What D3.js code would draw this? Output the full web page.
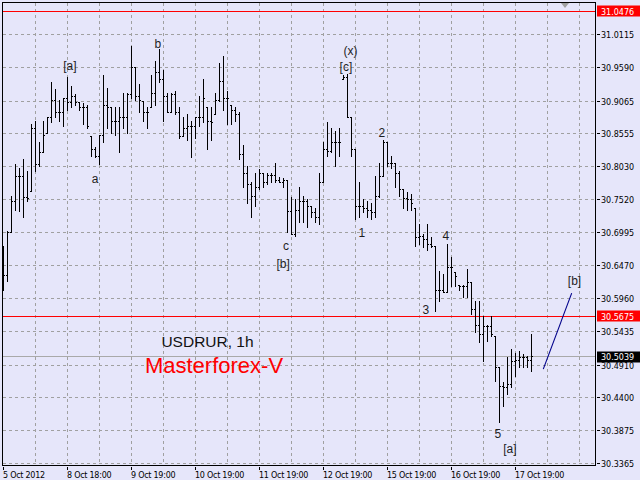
<!DOCTYPE html>
<html><head><meta charset="utf-8">
<script src="https://cdn.jsdelivr.net/npm/d3@7"></script>
<style>html,body{margin:0;padding:0;background:#e6e6fa;} svg{display:block}</style>
</head><body>
<svg id="chart" width="640" height="480"></svg>
<script>
// ---- data (USDRUR, 1h bars) ----
const opens = [
30.617,30.632,30.699,30.749,30.787,30.787,30.754,30.764,30.864,30.806,
30.825,30.856,30.881,30.908,30.888,30.888,30.910,30.904,30.913,30.904,
30.896,30.896,30.850,30.831,30.820,30.852,30.899,30.896,30.874,30.874,
30.881,30.881,30.916,30.960,30.913,30.905,30.888,30.897,30.919,30.951,
30.941,30.913,30.889,30.916,30.888,30.850,30.864,30.867,30.867,30.881,
30.881,30.896,30.874,30.885,30.908,30.937,30.911,30.900,30.892,30.885,
30.822,30.793,30.775,30.756,30.770,30.793,30.778,30.790,30.790,30.782,
30.779,30.782,30.732,30.696,30.735,30.748,30.748,30.740,30.731,30.724,
30.778,30.830,30.827,30.841,30.841,30.940,30.944,30.881,30.830,30.740,
30.740,30.738,30.735,30.731,30.756,30.787,30.841,30.809,30.809,30.793,
30.767,30.753,30.751,30.738,30.691,30.693,30.688,30.680,30.677,30.609,
30.609,30.606,30.644,30.636,30.617,30.614,30.614,30.621,30.578,30.554,
30.539,30.551,30.551,30.536,30.488,30.457,30.455,30.460,30.496,30.499,
30.503,30.503,30.499];
const highs = [
30.677,30.701,30.756,30.806,30.801,30.814,30.795,30.869,30.874,30.842,
30.874,30.881,30.935,30.924,30.908,30.911,30.944,30.929,30.916,30.904,
30.902,30.900,30.850,30.834,30.853,30.947,30.927,30.897,30.897,30.896,
30.919,30.919,30.992,30.960,30.932,30.905,30.896,30.947,30.968,30.987,
30.955,30.919,30.919,30.921,30.897,30.881,30.885,30.874,30.881,30.913,
30.940,30.896,30.896,30.919,30.966,30.977,30.921,30.900,30.897,30.888,
30.837,30.803,30.778,30.793,30.798,30.793,30.793,30.793,30.809,30.786,
30.784,30.782,30.754,30.751,30.770,30.756,30.751,30.740,30.738,30.793,
30.841,30.872,30.864,30.858,30.864,30.946,30.949,30.881,30.830,30.779,
30.751,30.748,30.746,30.787,30.809,30.845,30.842,30.819,30.809,30.795,
30.767,30.762,30.759,30.738,30.712,30.696,30.712,30.691,30.677,30.638,
30.633,30.680,30.660,30.636,30.617,30.617,30.641,30.621,30.591,30.591,
30.567,30.554,30.567,30.536,30.488,30.463,30.503,30.515,30.510,30.512,
30.507,30.504,30.539];
const lows = [
30.609,30.622,30.699,30.735,30.732,30.724,30.748,30.764,30.795,30.803,
30.825,30.856,30.872,30.881,30.874,30.866,30.892,30.896,30.900,30.892,
30.869,30.864,30.819,30.817,30.806,30.842,30.864,30.856,30.853,30.825,
30.864,30.856,30.911,30.908,30.888,30.874,30.864,30.897,30.899,30.935,
30.874,30.888,30.889,30.885,30.848,30.850,30.845,30.817,30.848,30.867,
30.872,30.830,30.845,30.885,30.905,30.892,30.869,30.869,30.874,30.814,
30.771,30.746,30.724,30.740,30.767,30.771,30.775,30.779,30.779,30.778,
30.771,30.699,30.696,30.694,30.716,30.716,30.707,30.724,30.716,30.712,
30.778,30.819,30.825,30.803,30.819,30.940,30.880,30.819,30.720,30.724,
30.731,30.723,30.720,30.724,30.754,30.787,30.803,30.801,30.771,30.756,
30.738,30.735,30.735,30.677,30.680,30.676,30.672,30.676,30.575,30.591,
30.605,30.605,30.614,30.614,30.609,30.598,30.598,30.570,30.542,30.526,
30.496,30.528,30.536,30.465,30.400,30.426,30.444,30.455,30.473,30.488,
30.487,30.488,30.481];
const closes = [
30.632,30.699,30.749,30.787,30.787,30.754,30.753,30.864,30.806,30.825,
30.852,30.881,30.908,30.888,30.888,30.910,30.904,30.913,30.904,30.896,
30.896,30.866,30.831,30.820,30.852,30.899,30.896,30.874,30.874,30.881,
30.881,30.916,30.960,30.913,30.908,30.888,30.888,30.919,30.951,30.941,
30.913,30.889,30.916,30.888,30.850,30.864,30.867,30.867,30.881,30.881,
30.911,30.874,30.872,30.908,30.937,30.911,30.911,30.892,30.885,30.822,
30.793,30.775,30.756,30.770,30.793,30.778,30.790,30.790,30.782,30.779,
30.782,30.732,30.696,30.735,30.748,30.748,30.740,30.731,30.724,30.778,
30.830,30.827,30.841,30.841,30.841,30.944,30.881,30.830,30.740,30.740,
30.738,30.735,30.731,30.756,30.787,30.841,30.809,30.809,30.793,30.767,
30.753,30.751,30.746,30.691,30.693,30.688,30.680,30.677,30.609,30.609,
30.606,30.644,30.644,30.630,30.614,30.614,30.621,30.578,30.554,30.539,
30.551,30.551,30.539,30.488,30.457,30.455,30.460,30.496,30.499,30.503,
30.503,30.499,30.5039];

const priceTicks = [31.0115,30.9590,30.9065,30.8555,30.8030,30.7520,30.6995,30.6470,30.5960,30.5435,30.4910,30.4400,30.3875,30.3365];
const timeLabels = ["5 Oct 2012","8 Oct 18:00","9 Oct 19:00","10 Oct 19:00","11 Oct 19:00","12 Oct 19:00","15 Oct 19:00","16 Oct 19:00","17 Oct 19:00"];
const timeLabelIdx = [0,16,32,48,64,80,96,112,128];

const hLines = [31.0476, 30.5675];      // red horizontal lines
const lastPrice = 30.5039;

const waveText = ["[a]","a","b","c","[b]","(x)","[c]","1","2","3","4","5","[a]","[b]"];
const waveIdx  = [16.6,22.9,38.6,70.6,69.9,86.75,85.6,89.6,94.6,105.6,110.6,123.6,126.6,142.75];
const wavePrice= [30.955,30.778,30.990,30.672,30.644,30.979,30.954,30.693,30.850,30.572,30.688,30.377,30.353,30.617];

const projIdx = [134.95, 142.05];
const projPrice = [30.4847, 30.6042];

// ---- scales ----
const n = closes.length;
const x = d3.scaleLinear().domain([0, n - 1]).range([3.5, 3.5 + 4 * (n - 1)]);
const y = d3.scaleLinear().domain([30.3365, 31.0115]).range([463.3, 34.3]);
const snap = v => Math.floor(v) + 0.5;

const svg = d3.select("#chart");
const L = 2.5, T = 2.5, R = 595.5, B = 465.5;
svg.append("rect").attr("width",640).attr("height",480).attr("fill","#e6e6fa");

// grid
const grid = svg.append("g").attr("stroke","#a0a0a0").attr("stroke-dasharray","3,3").attr("shape-rendering","crispEdges");
grid.selectAll("line.h").data(priceTicks).join("line")
  .attr("x1",L).attr("x2",R).attr("y1",d=>snap(y(d))).attr("y2",d=>snap(y(d)));
const vIdx = d3.range(8, 150, 8).filter(i => x(i) < R);
grid.selectAll("line.v").data(vIdx).join("line")
  .attr("x1",d=>x(d)).attr("x2",d=>x(d)).attr("y1",T).attr("y2",B);

// horizontal price lines
svg.append("g").attr("shape-rendering","crispEdges").selectAll("line").data(hLines).join("line")
  .attr("x1",L).attr("x2",R).attr("y1",d=>snap(y(d))).attr("y2",d=>snap(y(d))).attr("stroke","#ff0000");
svg.append("line").attr("shape-rendering","crispEdges")
  .attr("x1",L).attr("x2",R).attr("y1",snap(y(lastPrice))).attr("y2",snap(y(lastPrice))).attr("stroke","#a9a9a9");

// bars
const bars = svg.append("g").attr("stroke","#000").attr("shape-rendering","crispEdges");
bars.selectAll("path").data(d3.range(n)).join("path")
  .attr("d", i => {
    const cx = x(i);
    const yh = Math.floor(y(highs[i])), yl = Math.floor(y(lows[i])) + 1;
    const yo = snap(y(opens[i])), yc = snap(y(closes[i]));
    return `M${cx},${yh}V${yl}M${cx-1.5},${yo}H${cx}M${cx},${yc}H${cx+1.5}`;
  });

// projection line
svg.append("line")
  .attr("x1",x(projIdx[0])).attr("y1",y(projPrice[0]))
  .attr("x2",x(projIdx[1])).attr("y2",y(projPrice[1]))
  .attr("stroke","#00008b").attr("stroke-width",1.1);

// wave labels
svg.append("g").selectAll("text").data(waveText).join("text")
  .attr("x",(d,i)=>x(waveIdx[i])).attr("y",(d,i)=>y(wavePrice[i]))
  .attr("text-anchor","middle").attr("font-family","Liberation Sans, Arial, sans-serif")
  .attr("font-size",12).attr("fill","#1e1e1e").text(d=>d);

// titles
svg.append("text").attr("x",207.5).attr("y",346.5).attr("text-anchor","middle")
  .attr("font-family","Liberation Sans, Arial, sans-serif").attr("font-size",15.5).attr("fill","#111").text("USDRUR, 1h");
svg.append("text").attr("x",214).attr("y",373).attr("text-anchor","middle")
  .attr("font-family","Liberation Sans, Arial, sans-serif").attr("font-size",22).attr("fill","#ff0000").text("Masterforex-V");

// frame
svg.append("rect").attr("x",L).attr("y",T).attr("width",R-L).attr("height",B-T)
  .attr("fill","none").attr("stroke","#000").attr("shape-rendering","crispEdges");

// chart-shift marker
svg.append("path").attr("d","M561,3L569,3L565,8Z").attr("fill","#a0a0a0");

// right axis
const axisFont = "DejaVu Sans, Verdana, sans-serif";
const ra = svg.append("g");
ra.selectAll("line").data(priceTicks).join("line").attr("shape-rendering","crispEdges")
  .attr("x1",R+1).attr("x2",R+4).attr("y1",d=>snap(y(d))).attr("y2",d=>snap(y(d))).attr("stroke","#000");
ra.selectAll("text").data(priceTicks).join("text")
  .attr("x",601).attr("y",d=>y(d)+3.5).attr("font-family",axisFont).attr("font-size",8).attr("fill","#000")
  .text(d=>d.toFixed(4));

// price boxes
const boxes = [{v:hLines[0],bg:"#ff0000"},{v:hLines[1],bg:"#ff0000"},{v:lastPrice,bg:"#000"}];
boxes.forEach(b=>{
  const yy = y(b.v);
  svg.append("rect").attr("x",597).attr("y",Math.round(yy)-5.5).attr("width",43).attr("height",11).attr("fill",b.bg);
  svg.append("text").attr("x",601).attr("y",yy+3.5).attr("font-family",axisFont).attr("font-size",8)
    .attr("fill","#fff").text(b.v.toFixed(4));
});

// bottom axis
const ba = svg.append("g");
ba.selectAll("line").data(timeLabelIdx).join("line").attr("shape-rendering","crispEdges")
  .attr("x1",d=>x(d)).attr("x2",d=>x(d)).attr("y1",B+1).attr("y2",B+4).attr("stroke","#000");
ba.selectAll("text").data(timeLabels).join("text")
  .attr("x",(d,i)=>x(timeLabelIdx[i])-0.5).attr("y",478).attr("font-family",axisFont).attr("font-size",8)
  .attr("letter-spacing",-0.25).attr("fill","#000").text(d=>d);
</script>
</body></html>
